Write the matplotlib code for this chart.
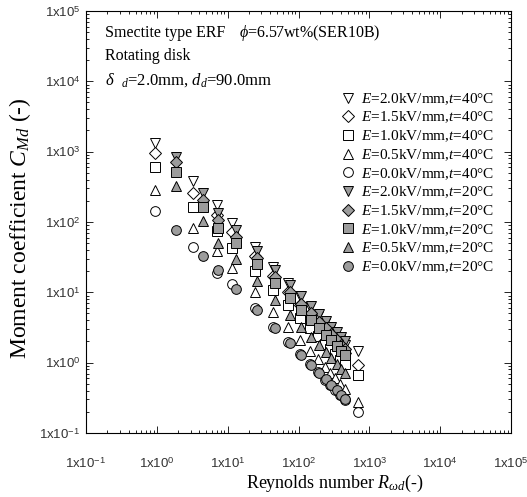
import numpy as np
import matplotlib
matplotlib.use('Agg')
import matplotlib.pyplot as plt
from matplotlib.ticker import FuncFormatter, FixedLocator, NullFormatter

plt.rcParams['font.family'] = ['Liberation Serif', 'DejaVu Serif']
plt.rcParams['mathtext.fontset'] = 'custom'
plt.rcParams['mathtext.rm'] = 'Liberation Sans'
plt.rcParams['mathtext.it'] = 'Liberation Serif:italic'

# Reynolds numbers, t=40 C (open symbols) and t=20 C (filled symbols)
re40 = [0.95, 3.2, 7.1, 11.5, 24, 44, 71, 105, 146, 190, 238, 280, 330, 390, 455, 700]
re20 = [1.87, 4.5, 7.3, 13.1, 26, 47, 76, 110, 150, 195, 242, 290, 345, 400, 460]

# moment coefficient, t=40 C
cm40_20 = [1334, 377, 175, 97, 43.8, 22.7, 13.5, 8.86, 6.16, 4.63, 3.61, 3.0, 2.52, 2.09, 1.78, 1.47]
cm40_15 = [960, 259, 124, 71, 32.5, 16.8, 10.1, 6.67, 4.73, 3.58, 2.82, 2.36, 1.97, 1.64, 1.38, 0.93]
cm40_10 = [605, 164, 74.6, 42.9, 20.0, 10.7, 6.55, 4.38, 3.12, 2.37, 1.87, 1.57, 1.32, 1.10, 0.945, 0.67]
cm40_05 = [286, 82, 38.7, 22.2, 10.0, 5.23, 3.17, 2.10, 1.47, 1.11, 0.861, 0.714, 0.606, 0.50, 0.429, 0.28]
cm40_00 = [144, 44.4, 18.9, 13.2, 6.04, 3.23, 1.97, 1.33, 0.945, 0.726, 0.576, 0.489, 0.412, 0.349, 0.297, 0.20]

# moment coefficient, t=20 C
cm20_20 = [850, 259, 135, 77.1, 38.5, 21.1, 12.9, 8.82, 6.4, 4.87, 3.93, 3.24, 2.72, 2.33, 2.02]
cm20_15 = [716, 206, 107, 61.1, 30.4, 16.6, 10.1, 6.91, 5.0, 3.82, 3.06, 2.53, 2.12, 1.81, 1.57]
cm20_10 = [516, 164, 82.2, 50.4, 25.0, 13.6, 8.29, 5.64, 4.1, 3.13, 2.5, 2.07, 1.72, 1.48, 1.27]
cm20_05 = [326, 104, 50.5, 29.8, 14.6, 7.87, 4.74, 3.23, 2.33, 1.77, 1.40, 1.16, 0.957, 0.825, 0.707]
cm20_00 = [77, 33, 20.8, 11.2, 5.58, 3.06, 1.88, 1.29, 0.94, 0.718, 0.579, 0.479, 0.403, 0.345, 0.30]

fields = ['2.0', '1.5', '1.0', '0.5', '0.0']
markers = ['v', 'D', 's', '^', 'o']
sizes = [7.5, 6, 6.5, 7.5, 7]
series40 = [cm40_20, cm40_15, cm40_10, cm40_05, cm40_00]
series20 = [cm20_20, cm20_15, cm20_10, cm20_05, cm20_00]

fig = plt.figure(figsize=(5.27, 4.97), dpi=100)
ax = fig.add_axes([0.1632, 0.1288, 0.8065, 0.8491])

for i in range(5):
    ax.plot(re40, series40[i], ls='none', marker=markers[i], ms=sizes[i],
            mfc='white', mec='black', mew=0.7,
            label='$E$=%skV/mm,$t$=40°C' % fields[i])
for i in range(5):
    ax.plot(re20, series20[i], ls='none', marker=markers[i], ms=sizes[i],
            mfc='#9c9c9c', mec='black', mew=0.7,
            label='$E$=%skV/mm,$t$=20°C' % fields[i])

ax.set_xscale('log')
ax.set_yscale('log')
ax.set_xlim(1e-1, 1e5)
ax.set_ylim(1e-1, 1e5)

# only ticks inside the range
decades = [10.0 ** k for k in range(-1, 6)]
minors = [m * d for d in decades[:-1] for m in range(2, 10)]
fmt = FuncFormatter(lambda v, p: '1x10$^{%d}$' % int(round(np.log10(v))))
for a in (ax.xaxis, ax.yaxis):
    a.set_major_locator(FixedLocator(decades))
    a.set_minor_locator(FixedLocator(minors))
    a.set_major_formatter(fmt)
    a.set_minor_formatter(NullFormatter())
ax.tick_params(which='both', direction='in', top=True, right=True, width=0.6)
ax.tick_params(which='major', length=5)
ax.tick_params(which='minor', length=2.5)
ax.tick_params(axis='x', pad=17)
ax.tick_params(axis='y', pad=4)
for lab in ax.get_xticklabels() + ax.get_yticklabels():
    lab.set_family('Liberation Sans')
    lab.set_fontsize(9.5)
    lab.set_color('#333333')
for s in ax.spines.values():
    s.set_linewidth(0.8)

ax.set_xlabel('Reynolds number $R_{\\omega d}$(-)', fontsize=13)
ax.xaxis.set_label_coords(0.585, -0.095)
ax.set_ylabel('Moment coefficient $C_{Md}$ (-)', fontsize=17)
ax.yaxis.set_label_coords(-0.125, 0.486)

ax.text(0.045, 0.948, 'Smectite type ERF', transform=ax.transAxes, fontsize=11.5, va='center')
ax.text(0.36, 0.948, '$\\phi$=6.57wt%(SER10B)', transform=ax.transAxes, fontsize=11.5,
        va='center')
ax.text(0.045, 0.893, 'Rotating disk', transform=ax.transAxes, fontsize=11.5, va='center')
ax.text(0.045, 0.836, '$\\delta$  $_d$=2.0mm, $d_d$=90.0mm', transform=ax.transAxes,
        fontsize=12, va='center')

ax.legend(loc='upper left', bbox_to_anchor=(0.598, 0.81), frameon=False, fontsize=11,
          handlelength=1.0, handletextpad=0.35, labelspacing=0.2, borderpad=0,
          borderaxespad=0)

fig.savefig('out.png', dpi=100)
